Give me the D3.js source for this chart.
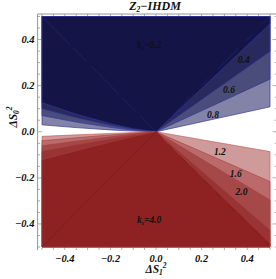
<!DOCTYPE html>
<html><head><meta charset="utf-8">
<script src="https://cdn.jsdelivr.net/npm/d3@7"></script>
<style>
body{margin:0;background:#fff}
text{font-family:"Liberation Serif","Times New Roman",serif;font-weight:bold;font-style:italic;fill:#111}
</style>
</head><body><svg id="c" width="276" height="279"></svg>
<script>
// ---- data ----
const xTicks = [-0.4, -0.2, 0.0, 0.2, 0.4];
const yTicks = [-0.4, -0.2, 0.0, 0.2, 0.4];
const xTickLabels = ["\u22120.4", "\u22120.2", "0.0", "0.2", "0.4"];
const yTickLabels = ["\u22120.4", "\u22120.2", "0.0", "0.2", "0.4"];
const boundaryX = [-0.5, -0.35, -0.2, -0.1, 0, 0.5];
const blueLevels = [0.8, 0.6, 0.4, 0.2];
const blueBoundaryY = [
  [0.030, 0.018, 0.008, 0.003, 0, 0.108],
  [0.070, 0.042, 0.019, 0.007, 0, 0.228],
  [0.100, 0.061, 0.028, 0.011, 0, 0.348],
  [0.126, 0.076, 0.035, 0.013, 0, 0.468]
];
const redLevels = [1.2, 1.6, 2.0, 3.0, 4.0];
const redBoundaryY = [
  [-0.020, -0.0135, -0.0073, -0.0034, 0, -0.086],
  [-0.039, -0.026, -0.014, -0.0066, 0, -0.216],
  [-0.061, -0.041, -0.022, -0.010, 0, -0.296],
  [-0.085, -0.057, -0.031, -0.014, 0, -0.426],
  [-0.122, -0.082, -0.045, -0.021, 0, -0.483]
];
const labelText = ["0.2", "0.4", "0.6", "0.8", "1.2", "1.6", "2.0", "4.0"];
const labelX = [-0.03, 0.385, 0.32, 0.25, 0.28, 0.35, 0.375, -0.03];
const labelY = [0.376, 0.31, 0.18, 0.074, -0.088, -0.183, -0.262, -0.385];
const labelPrefix = [true, false, false, false, false, false, false, true];

// ---- drawing ----
const svg = d3.select("#c");
const x = d3.scaleLinear().domain([-0.5, 0.5]).range([42, 270]);
const y = d3.scaleLinear().domain([-0.5, 0.5]).range([247, 16.5]);
const frame = {l: 37.6, t: 14, r: 277, b: 250};
const frameColor = "#8a8a8a";

// ticks (drawn first so fill covers the inner parts)
const minor = d3.range(-0.5, 0.5001, 0.05).map(v => +v.toFixed(2));
const gt = svg.append("g").attr("stroke", frameColor).attr("stroke-width", 0.7);
minor.forEach(v => {
  const major = xTicks.some(t => Math.abs(t - v) < 1e-6);
  const len = major ? 4.5 : 2.5;
  gt.append("line").attr("x1", x(v)).attr("x2", x(v)).attr("y1", frame.t).attr("y2", frame.t + len);
  gt.append("line").attr("x1", x(v)).attr("x2", x(v)).attr("y1", frame.b).attr("y2", frame.b - len);
  gt.append("line").attr("y1", y(v)).attr("y2", y(v)).attr("x1", frame.l).attr("x2", frame.l + len);
  gt.append("line").attr("y1", y(v)).attr("y2", y(v)).attr("x1", frame.r).attr("x2", frame.r - len);
});
svg.append("line").attr("x1", frame.l).attr("x2", frame.r).attr("y1", frame.t).attr("y2", frame.t)
  .attr("stroke", frameColor).attr("stroke-width", 0.9);
svg.append("line").attr("x1", frame.l).attr("x2", frame.l).attr("y1", frame.t).attr("y2", frame.b)
  .attr("stroke", frameColor).attr("stroke-width", 0.9);

const line = d3.line().x(d => x(d[0])).y(d => y(d[1]));
const blueFill = ["#8283a6", "#4a4c7a", "#28295c", "#141447"];
const redFill = ["#cf9a9a", "#ba6a6a", "#a54848", "#983434", "#8e2222"];

blueLevels.forEach((lv, i) => {
  const pts = [[-0.5, 0.5]].concat(boundaryX.map((bx, j) => [bx, blueBoundaryY[i][j]]), [[0.5, 0.5]]);
  svg.append("path").attr("d", line(pts) + "Z")
    .attr("fill", blueFill[i]).attr("stroke", "#34379e").attr("stroke-width", 0.7);
});
redLevels.forEach((lv, i) => {
  const pts = [[-0.5, -0.5]].concat(boundaryX.map((bx, j) => [bx, redBoundaryY[i][j]]), [[0.5, -0.5]]);
  svg.append("path").attr("d", line(pts) + "Z")
    .attr("fill", redFill[i]).attr("stroke", i === 0 ? "#c25555" : "#a83c3c").attr("stroke-width", 0.6);
});

// faint diagonal seams
const seams = [
  {a: [-0.5, 0.5], b: [0, 0], c: "#22266a", d: "40 4 20 6"},
  {a: [0, 0], b: [0.5, 0.5], c: "#22266a", d: "10 14 30 10"},
  {a: [-0.5, -0.5], b: [0, 0], c: "#7a1a1a", d: null},
  {a: [0, 0], b: [0.5, -0.5], c: "#7a1a1a", d: "10 8 6 10"}
];
seams.forEach(s => {
  const l = svg.append("line").attr("x1", x(s.a[0])).attr("y1", y(s.a[1]))
    .attr("x2", x(s.b[0])).attr("y2", y(s.b[1])).attr("stroke", s.c).attr("stroke-width", 0.7);
  if (s.d) l.attr("stroke-dasharray", s.d);
});

// contour labels
labelText.forEach((t, i) => {
  const tx = svg.append("text").attr("x", x(labelX[i])).attr("y", y(labelY[i]) + 3)
    .attr("text-anchor", "middle").style("font-size", "9.5px");
  if (labelPrefix[i]) {
    tx.append("tspan").text("k");
    tx.append("tspan").text("s").attr("dy", 2).style("font-size", "6px");
    tx.append("tspan").text("=" + t).attr("dy", -2);
  } else tx.text(t);
});

// tick labels
xTicks.forEach((v, i) => {
  svg.append("text").attr("x", x(v)).attr("y", 262).attr("text-anchor", "middle")
    .style("font-size", "10.5px").text(xTickLabels[i]);
});
yTicks.forEach((v, i) => {
  svg.append("text").attr("x", 34.5).attr("y", y(v) + 3.5).attr("text-anchor", "end")
    .style("font-size", "10.5px").text(yTickLabels[i]);
});

// title
const title = svg.append("text").attr("x", 155).attr("y", 10).attr("text-anchor", "middle").style("font-size", "12px");
title.append("tspan").text("Z");
title.append("tspan").text("2").attr("dy", 2).style("font-size", "7.5px");
title.append("tspan").text("\u2212IHDM").attr("dy", -2);

// axis titles
const xt = svg.append("text").attr("x", 156).attr("y", 273).attr("text-anchor", "middle").style("font-size", "11.5px");
xt.append("tspan").text("\u0394S");
xt.append("tspan").text("1").attr("dy", 2).style("font-size", "7.5px");
xt.append("tspan").text("2").attr("dy", -7).style("font-size", "7.5px");

const yt = svg.append("text").attr("transform", "translate(17,117) rotate(-90)").attr("text-anchor", "middle").style("font-size", "11.5px");
yt.append("tspan").text("\u0394S");
yt.append("tspan").text("0").attr("dy", 2).style("font-size", "7.5px");
yt.append("tspan").text("2").attr("dy", -7).style("font-size", "7.5px");
</script>
</body></html>
